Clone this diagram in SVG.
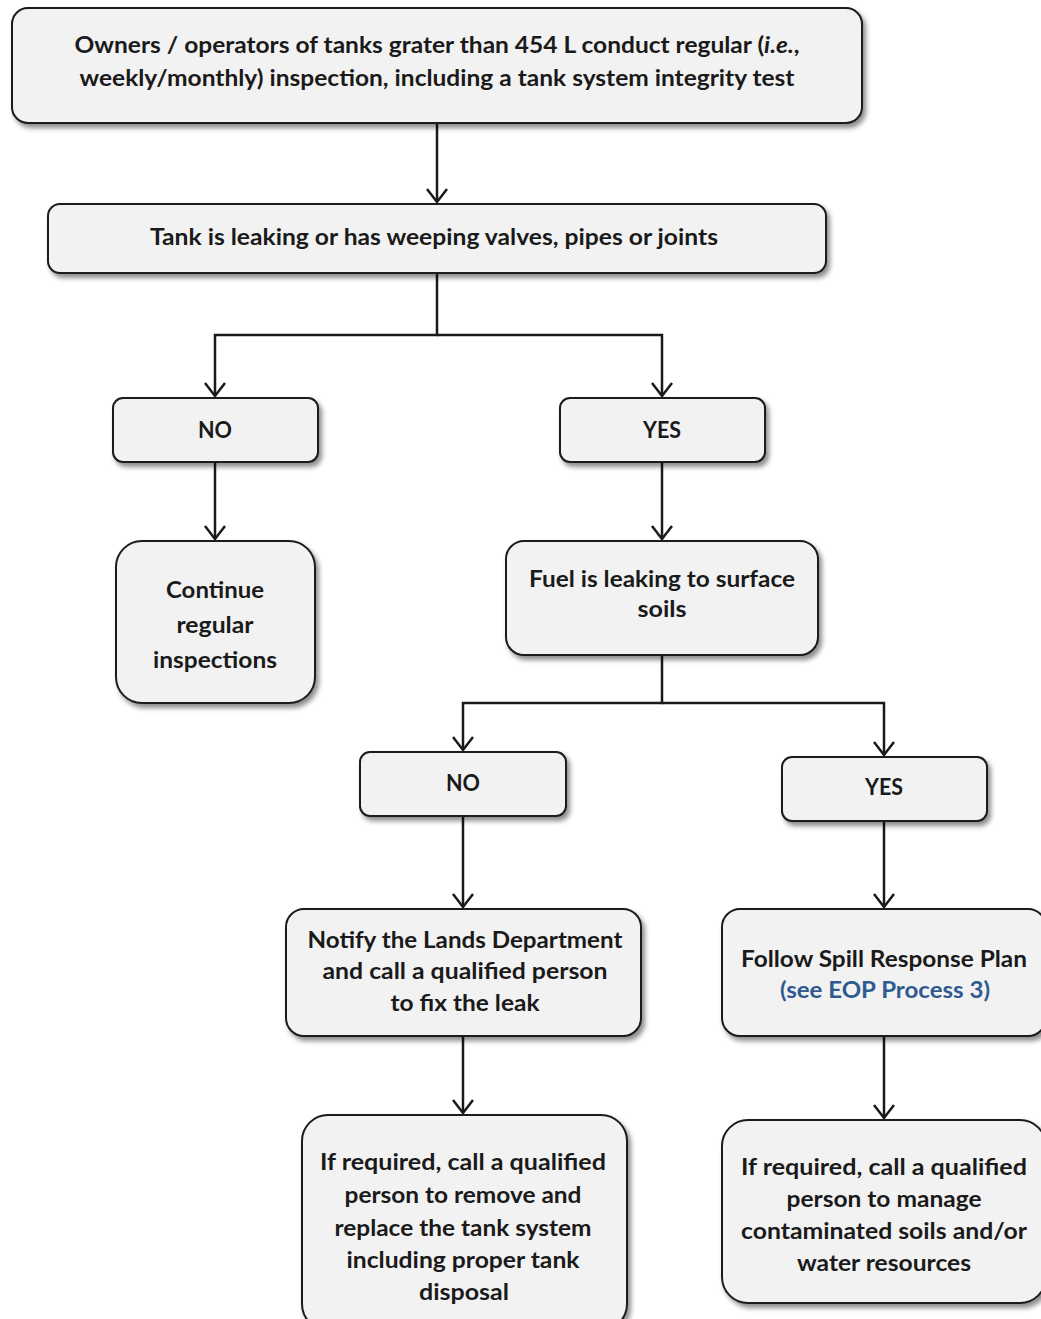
<svg xmlns="http://www.w3.org/2000/svg" width="1041" height="1319" viewBox="0 0 1041 1319">
<style>
.box{fill:#f2f2f2;stroke:#1a1a1a;stroke-width:2;filter:url(#sh)}
.t{font-family:Lato,"Open Sans","Liberation Sans",sans-serif;font-weight:700;font-size:22px;fill:#1a1a1a;text-anchor:middle}
.blue{fill:#2f5a8f}
.c{fill:none;stroke:#1a1a1a;stroke-width:2.5}
</style>
<defs>
<filter id="sh" x="-10%" y="-10%" width="130%" height="140%">
<feDropShadow dx="3" dy="4" stdDeviation="2.5" flood-color="#000" flood-opacity="0.45"/>
</filter>
<marker id="ah" markerUnits="userSpaceOnUse" markerWidth="18" markerHeight="22" viewBox="0 0 18 22" refX="14" refY="11" orient="auto">
<path d="M1,1 L14,11 L1,21" fill="none" stroke="#1a1a1a" stroke-width="2.5"/>
</marker>
</defs>
<g id="connectors">
<line class="c" x1="437" y1="123" x2="437" y2="202" marker-end="url(#ah)"/>
<polyline class="c" points="437,273 437,335 215,335 215,396" marker-end="url(#ah)"/>
<polyline class="c" points="437,335 662,335 662,396" marker-end="url(#ah)"/>
<line class="c" x1="215" y1="462" x2="215" y2="539" marker-end="url(#ah)"/>
<line class="c" x1="662" y1="462" x2="662" y2="539" marker-end="url(#ah)"/>
<polyline class="c" points="662,655 662,703 463,703 463,750" marker-end="url(#ah)"/>
<polyline class="c" points="662,703 884,703 884,755" marker-end="url(#ah)"/>
<line class="c" x1="463" y1="816" x2="463" y2="907" marker-end="url(#ah)"/>
<line class="c" x1="884" y1="821" x2="884" y2="907" marker-end="url(#ah)"/>
<line class="c" x1="463" y1="1036" x2="463" y2="1113" marker-end="url(#ah)"/>
<line class="c" x1="884" y1="1036" x2="884" y2="1118" marker-end="url(#ah)"/>
</g>
<g id="n1">
<rect class="box" x="12" y="8" width="850" height="115" rx="16"/>
<text class="t" x="437" y="53" textLength="725" lengthAdjust="spacingAndGlyphs">Owners / operators of tanks grater than 454 L conduct regular (<tspan font-style="italic">i.e.</tspan>,</text>
<text class="t" x="437" y="86" textLength="715" lengthAdjust="spacingAndGlyphs">weekly/monthly) inspection, including a tank system integrity test</text>
</g>
<g id="n2">
<rect class="box" x="48" y="204" width="778" height="69" rx="12"/>
<text class="t" x="434" y="245" textLength="568" lengthAdjust="spacingAndGlyphs">Tank is leaking or has weeping valves, pipes or joints</text>
</g>
<g id="no1">
<rect class="box" x="113" y="398" width="205" height="64" rx="10"/>
<text class="t" x="215" y="438" textLength="34" lengthAdjust="spacingAndGlyphs">NO</text>
</g>
<g id="yes1">
<rect class="box" x="560" y="398" width="205" height="64" rx="10"/>
<text class="t" x="662" y="438" textLength="38" lengthAdjust="spacingAndGlyphs">YES</text>
</g>
<g id="cont">
<rect class="box" x="116" y="541" width="199" height="162" rx="26"/>
<text class="t" x="215" y="598" textLength="98" lengthAdjust="spacingAndGlyphs">Continue</text>
<text class="t" x="215" y="633" textLength="77" lengthAdjust="spacingAndGlyphs">regular</text>
<text class="t" x="215" y="668" textLength="124" lengthAdjust="spacingAndGlyphs">inspections</text>
</g>
<g id="fuel">
<rect class="box" x="506" y="541" width="312" height="114" rx="18"/>
<text class="t" x="662" y="587" textLength="266" lengthAdjust="spacingAndGlyphs">Fuel is leaking to surface</text>
<text class="t" x="662" y="617" textLength="49" lengthAdjust="spacingAndGlyphs">soils</text>
</g>
<g id="no2">
<rect class="box" x="360" y="752" width="206" height="64" rx="10"/>
<text class="t" x="463" y="791" textLength="34" lengthAdjust="spacingAndGlyphs">NO</text>
</g>
<g id="yes2">
<rect class="box" x="782" y="757" width="205" height="64" rx="10"/>
<text class="t" x="884" y="795" textLength="38" lengthAdjust="spacingAndGlyphs">YES</text>
</g>
<g id="notify">
<rect class="box" x="286" y="909" width="355" height="127" rx="18"/>
<text class="t" x="465" y="948" textLength="315" lengthAdjust="spacingAndGlyphs">Notify the Lands Department</text>
<text class="t" x="465" y="979" textLength="285" lengthAdjust="spacingAndGlyphs">and call a qualified person</text>
<text class="t" x="465" y="1011" textLength="149" lengthAdjust="spacingAndGlyphs">to fix the leak</text>
</g>
<g id="follow">
<rect class="box" x="722" y="909" width="324" height="127" rx="18"/>
<text class="t" x="884" y="967" textLength="286" lengthAdjust="spacingAndGlyphs">Follow Spill Response Plan</text>
<text class="t blue" x="885" y="998" textLength="210" lengthAdjust="spacingAndGlyphs">(see EOP Process 3)</text>
</g>
<g id="replace">
<rect class="box" x="302" y="1115" width="325" height="215" rx="26"/>
<text class="t" x="463" y="1170" textLength="286" lengthAdjust="spacingAndGlyphs">If required, call a qualified</text>
<text class="t" x="463" y="1203" textLength="237" lengthAdjust="spacingAndGlyphs">person to remove and</text>
<text class="t" x="463" y="1236" textLength="257" lengthAdjust="spacingAndGlyphs">replace the tank system</text>
<text class="t" x="463" y="1268" textLength="233" lengthAdjust="spacingAndGlyphs">including proper tank</text>
<text class="t" x="464" y="1300" textLength="90" lengthAdjust="spacingAndGlyphs">disposal</text>
</g>
<g id="manage">
<rect class="box" x="722" y="1120" width="324" height="183" rx="26"/>
<text class="t" x="884" y="1175" textLength="286" lengthAdjust="spacingAndGlyphs">If required, call a qualified</text>
<text class="t" x="884" y="1207" textLength="195" lengthAdjust="spacingAndGlyphs">person to manage</text>
<text class="t" x="884" y="1239" textLength="286" lengthAdjust="spacingAndGlyphs">contaminated soils and/or</text>
<text class="t" x="884" y="1271" textLength="174" lengthAdjust="spacingAndGlyphs">water resources</text>
</g>
</svg>
